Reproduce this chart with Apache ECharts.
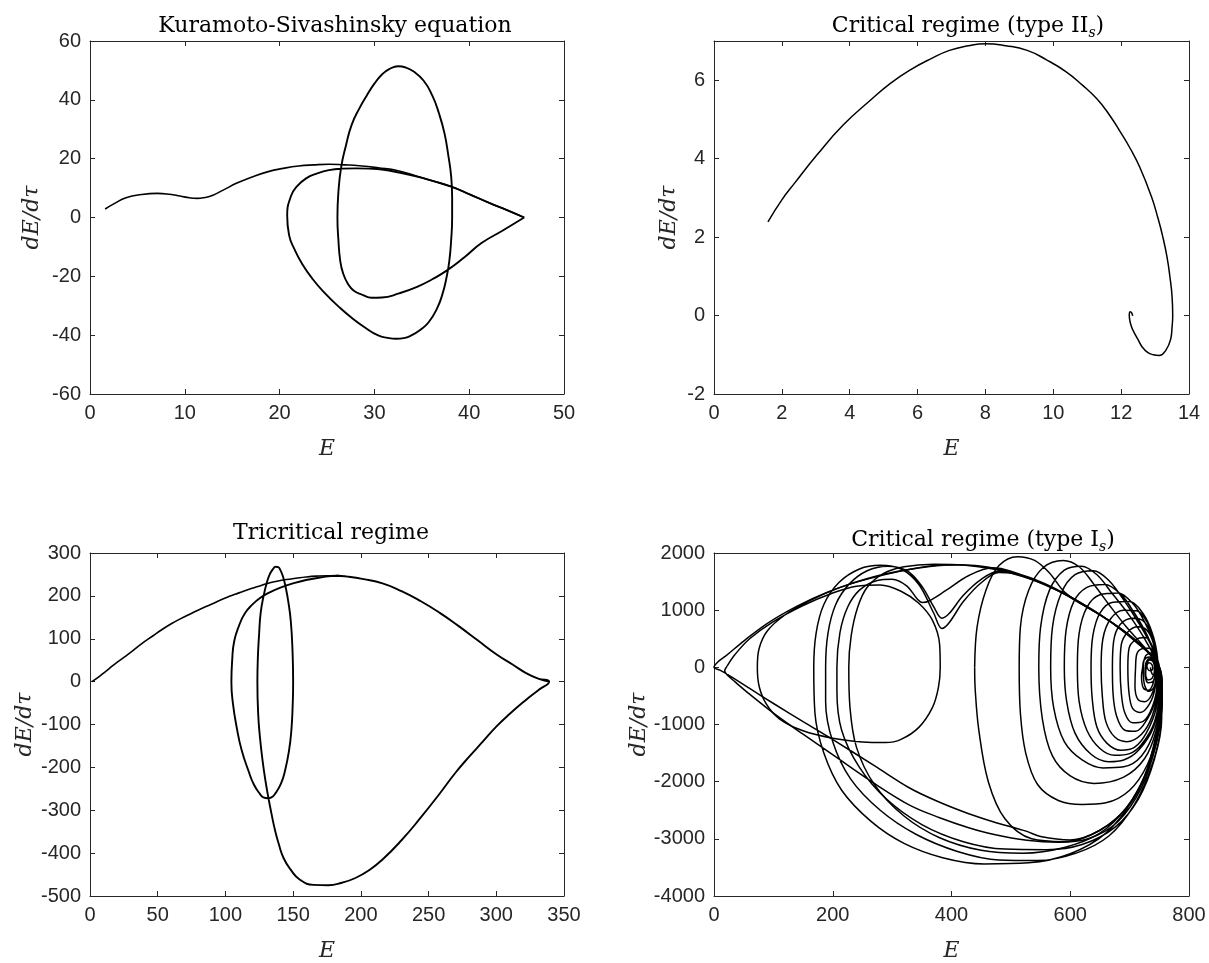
<!DOCTYPE html>
<html>
<head>
<meta charset="utf-8">
<script src="https://cdn.jsdelivr.net/npm/echarts@6/dist/echarts.min.js"></script>
<style>
  html, body { margin: 0; padding: 0; background: #ffffff; }
  #chart { width: 1209px; height: 963px; }
</style>
</head>
<body>
<div id="chart"></div>
<script>
// axis ranges: [min, max, interval]
const ksX = [0, 50, 10];
const ksY = [-60, 60, 20];
const c2X = [0, 14, 2];
const c2Y = [-2, 7, 2];
const tcX = [0, 350, 50];
const tcY = [-500, 300, 100];
const c1X = [0, 800, 200];
const c1Y = [-4000, 2000, 1000];

// Kuramoto-Sivashinsky: transient then the periodic orbit
const ksTransient = [[1.6,2.9],[2.6,4.8],[3.8,6.7],[5.4,7.8],[7.1,8.2],[8.4,7.9],[9.5,7.3],[10.5,6.7],[11.3,6.5],[12.1,6.8],[12.9,7.5],[14.1,9.4],[15.5,11.7],[17.1,13.8],[18.8,15.6],[20.4,16.7],[22.0,17.5],[23.6,17.9],[25.2,18.1],[26.8,17.9],[28.4,17.6],[30.4,16.9],[32.5,15.9],[34.5,14.0],[36.3,12.3],[38.1,10.5],[40.1,7.8],[42.1,5.0],[44.0,2.5],[45.8,0]];
const ksOrbit = [[45.8,0],[43.5,-4.5],[41.3,-8.7],[39.5,-13.5],[37.7,-17.9],[36.1,-21.0],[34.5,-23.6],[32.6,-25.8],[30.8,-27.2],[29.7,-27.3],[28.8,-26.4],[27.8,-24.8],[27.2,-22.5],[26.7,-19.0],[26.4,-14.8],[26.2,-7.5],[26.1,0.1],[26.2,8.5],[26.5,17.2],[27.0,24.5],[27.6,31.5],[28.4,37.0],[29.2,41.5],[30.0,45.5],[30.8,48.6],[31.6,50.5],[32.5,51.4],[33.3,51.0],[34.1,49.7],[35.2,46.5],[36.1,41.5],[36.8,35.5],[37.4,28.5],[37.8,21.0],[38.1,13.9],[38.2,7.0],[38.2,0.1],[38.1,-7.5],[37.9,-14.8],[37.6,-20.5],[37.2,-25.8],[36.6,-31.0],[35.7,-35.7],[34.8,-38.3],[33.9,-40.1],[33.1,-41.0],[32.3,-41.2],[31.4,-40.9],[30.4,-40.1],[29.0,-37.4],[27.6,-34.1],[26.2,-30.2],[24.8,-25.8],[23.5,-21.0],[22.4,-15.9],[21.6,-11.0],[21.0,-6.0],[20.8,0.7],[21.2,7.3],[21.8,10.5],[22.8,13.3],[23.9,14.9],[25.2,16.1],[26.6,16.6],[28.0,16.7],[29.4,16.6],[30.8,16.3],[32.6,15.3],[34.5,13.9],[36.3,12.3],[38.1,10.5],[40.1,7.8],[42.1,5.0],[44.0,2.5],[45.8,0]];

// critical regime, type II_s
const c2Path = [[1.59,2.39],[2.0,2.95],[2.37,3.37],[3.05,4.11],[3.8,4.85],[4.65,5.52],[5.2,5.92],[5.8,6.27],[6.4,6.55],[6.94,6.76],[7.5,6.88],[8.0,6.93],[8.6,6.88],[9.23,6.76],[9.8,6.52],[10.37,6.22],[10.85,5.88],[11.29,5.52],[11.65,5.12],[11.97,4.69],[12.28,4.24],[12.55,3.78],[12.89,3.04],[13.08,2.5],[13.23,2.0],[13.35,1.5],[13.44,0.97],[13.5,0.5],[13.52,0],[13.5,-0.3],[13.46,-0.6],[13.32,-0.88],[13.12,-1.02],[12.95,-1.0],[12.78,-0.94],[12.62,-0.8],[12.49,-0.6],[12.38,-0.43],[12.3,-0.27],[12.25,-0.1],[12.24,0.02],[12.27,0.1],[12.31,0.07],[12.34,-0.01]];

// tricritical regime: transient then the periodic orbit
const tcTransient = [[1.4,0],[6,10],[10,20],[14,30],[18.3,41],[24,54],[30,68],[38,88],[46.6,107],[53,121],[60,135],[67,147],[74.8,159],[82,170],[90,181],[96,190],[103,199],[110,207],[117,215],[124,222],[131,229],[138,234],[145,238],[152,241],[159.5,244],[167,246],[175,247],[182,247]];
const tcOrbit = [[182,247],[190,245],[202,239],[216,229],[230,211],[244,188],[258,161],[272,130],[286,97],[300,64],[312,40],[322,20],[331,7],[339,0],[331,-20],[321,-45],[310,-75],[300,-105],[290,-140],[280,-175],[270,-212],[258,-262],[244,-318],[230,-370],[216,-415],[206,-440],[196,-458],[186,-469],[176,-475],[165,-474],[155,-462],[148,-438],[143,-412],[139.5,-380],[136.5,-345],[134,-308],[131.8,-272],[129.5,-230],[127.5,-186],[125.5,-130],[124.2,-76],[123.6,-1],[124,60],[124.8,107],[126,160],[128.4,203],[130.5,230],[132.7,250],[135,262],[137,268],[139,267],[140.6,260],[142.5,245],[144.5,220],[146.5,185],[148.3,140],[149.5,75],[150,-1],[149.6,-60],[148.7,-113],[147,-160],[144,-208],[141,-238],[137,-260],[134,-270],[131.3,-272],[128,-270],[125.7,-263],[121,-240],[117,-208],[112,-160],[108.7,-113],[105.5,-50],[104.4,-1],[105,50],[106.4,93],[110,130],[114.3,159],[120,180],[125.6,195],[132,207],[139.7,218],[150,229],[159.5,237],[170,243],[182,247],[190,245],[202,239],[216,229],[230,211],[244,188],[258,161],[272,130],[286,97],[300,64],[312,40],[322,20],[331,7],[339,0]];

// critical regime, type I_s: big excursions to the left
const c1Outer = [[748,0],[752,-500],[744,-1200],[725,-1900],[695,-2450],[650,-2850],[600,-3020],[550,-2960],[527,-2870],[470,-2700],[429,-2560],[380,-2360],[331,-2120],[270,-1720],[201,-1270],[150,-950],[103,-650],[60,-370],[30,-170],[10,-50],[0,0],
  [6,90],[20,200],[50,460],[90,770],[140,1070],[190,1310],[240,1490],[290,1630],[340,1735],[390,1795],[440,1780],[490,1690],[540,1530],[590,1290],[640,990],[690,630],[725,330],[745,80],
  [752,-300],[750,-900],[736,-1600],[706,-2300],[660,-2900],[600,-3260],[530,-3420],[455,-3440],[385,-3330],[320,-3080],[265,-2700],[215,-2150],[185,-1500],[170,-800],[168,0],[172,600],[185,1100],[210,1480],[245,1720],[280,1785],[315,1720],[345,1450],[370,950],[384,680],[396,780],[420,1150],[450,1480],[480,1660],[500,1650],[540,1520],[590,1290],[640,990],[690,630],[725,330],[748,60],
  [755,-300],[753,-1000],[738,-1700],[708,-2400],[665,-2950],[610,-3250],[545,-3380],[480,-3370],[410,-3220],[340,-2920],[280,-2500],[230,-1950],[200,-1300],[188,-600],[188,0],[192,600],[205,1100],[228,1460],[258,1690],[292,1770],[325,1690],[350,1420],[370,1060],[384,860],[396,940],[420,1260],[450,1540],[480,1680],[520,1610],[570,1400],[620,1110],[670,780],[712,440],[740,150],
  [754,-250],[754,-900],[742,-1600],[715,-2300],[675,-2800],[620,-3100],[560,-3190],[490,-3180],[420,-3050],[350,-2750],[290,-2300],[245,-1750],[215,-1100],[207,-400],[207,0],[212,600],[225,1050],[245,1350],[275,1520],[300,1540],[325,1420],[342,1200],[351,1135],[362,1160],[390,1340],[430,1610],[470,1740],[500,1680],[550,1480],[600,1230],[650,920],[700,560],[735,230],[750,0],
  [753,-500],[745,-1300],[720,-2100],[680,-2700],[630,-3000],[580,-3060],[527,-3025],[470,-2920],[429,-2805],[380,-2630],[331,-2419],[270,-2030],[201,-1537],[150,-1170],[103,-823],[60,-470],[35,-250],[22,-130],[18,-60],[22,20]];

const c1Middle = [[22,20],[35,220],[60,500],[100,800],[150,1080],[200,1300],[240,1420],[280,1440],[315,1330],[345,1120],[368,820],[380,400],[381,0],[378,-350],[368,-700],[345,-1050],[315,-1260],[289,-1317],[250,-1305],[200,-1240],[150,-1110],[110,-900],[88,-640],[76,-330],[73,0],[76,330],[90,640],[120,920],[160,1160],[210,1390],[260,1560],[310,1680],[360,1760],[410,1795],[460,1740],[500,1650],[550,1480],[600,1230],[650,920],[700,560],[735,230],[752,-50],
  [755,-400],[750,-1100],[730,-1800],[695,-2450],[650,-2900],[590,-3150],[520,-3250],[450,-3200],[380,-2980],[320,-2600],[270,-2050],[240,-1400],[229,-700],[227,0],[231,550],[242,1050],[258,1400],[285,1640],[320,1760],[370,1805],[420,1790],[470,1720],[520,1590],[570,1390],[620,1100],[670,780],[712,430],[742,120],
  [754,-400],[748,-1100],[730,-1800],[700,-2400],[650,-2850],[590,-3050],[535,-3000],[490,-2650],[462,-2000],[446,-1100],[440,-400],[439,0]];

// nested loops shrinking onto the spiral near E = 740
const c1Inner = [[439,0],[443,700],[458,1350],[480,1780],[511,1935],[540,1870],[565,1650],[590,1320],[620,1100],[650,920],[690,630],[725,330],[750,0],[755,-500],[748,-1100],[730,-1700],[700,-2150],[660,-2370],[620,-2400],[580,-2330],[545,-2050],[525,-1500],[516,-800],[514,0],
  [516,700],[530,1350],[555,1750],[588,1870],[615,1760],[640,1450],[665,1100],[695,700],[725,350],[748,0],[754,-500],[745,-1100],[725,-1600],[690,-1920],[640,-2030],[600,-1900],[570,-1550],[553,-900],[547,0],
  [550,700],[565,1350],[590,1700],[619,1770],[645,1620],[670,1300],[700,900],[728,450],[748,0],[752,-500],[742,-1100],[720,-1550],[690,-1740],[655,-1760],[620,-1620],[590,-1300],[572,-700],[567,0],
  [570,700],[585,1300],[608,1620],[639,1690],[665,1520],[690,1180],[715,780],[738,350],[750,0],[751,-500],[740,-1050],[715,-1450],[690,-1620],[665,-1650],[635,-1520],[608,-1150],[594,-600],[590,0],
  [593,650],[606,1150],[628,1400],[658,1450],[685,1280],[708,950],[730,550],[746,100],[750,-400],[742,-950],[720,-1350],[700,-1510],[675,-1540],[650,-1420],[628,-1100],[615,-600],[612,0],
  [615,600],[628,1050],[650,1270],[680,1300],[705,1120],[725,800],[742,380],[749,-100],[745,-700],[728,-1150],[708,-1400],[685,-1450],[662,-1330],[645,-1050],[637,-550],[635,0],
  [638,550],[650,950],[672,1140],[700,1150],[722,950],[738,600],[747,150],[748,-350],[738,-850],[720,-1170],[695,-1300],[675,-1220],[660,-950],[654,-500],[652,0],
  [655,500],[668,850],[690,1000],[712,990],[730,780],[743,420],[748,-50],[744,-550],[730,-900],[710,-1120],[692,-1100],[678,-850],[672,-450],[671,0],
  [673,450],[684,750],[705,860],[722,820],[737,580],[746,200],[746,-300],[738,-700],[722,-950],[705,-970],[692,-800],[686,-450],[684,0],
  [686,400],[697,620],[714,710],[728,660],[740,420],[745,50],[743,-350],[733,-650],[718,-790],[705,-720],[699,-450],[697,0],
  [699,330],[710,480],[726,520],[736,420],[744,150],[744,-200],[737,-480],[726,-600],[714,-560],[709,-330],[710,0],
  [712,230],[722,330],[734,340],[741,200],[743,-50],[739,-300],[731,-400],[723,-360],[720,-150],[722,0],
  [724,120],[733,180],[740,120],[742,-40],[738,-190],[731,-220],[727,-120],[728,0],[733,80],[738,40],[739,-30],[735,-60],
  [730,-20],[729,60],[734,130],[740,90],[743,-80],[739,-250],[731,-270],[726,-100],[727,60],[733,150],[741,110],[745,-60],[741,-350],[732,-420],[724,-250],[723,0],[727,200],[736,250],[743,100],[744,-150],[738,-120],[735,0]];

const axisColor = '#262626';
const serif = "'DejaVu Serif', serif";
const sans = "'Liberation Sans', Arial, sans-serif";

const grids = [
  { left: 90, top: 41, width: 474, height: 353 },
  { left: 714, top: 41, width: 475, height: 353 },
  { left: 90, top: 553, width: 474, height: 353 },
  { left: 714, top: 553, width: 475, height: 353 }
];
// distance of the y label from each panel's axis
const yNameGaps = [47, 34, 54, 59];

function makeAxes(gi, range, isX) {
  const base = {
    type: 'value',
    gridIndex: gi,
    min: range[0],
    max: range[1],
    interval: range[2],
    axisLine: { show: true, onZero: false, lineStyle: { color: axisColor, width: 1 } },
    axisTick: { show: true, inside: true, length: 5, lineStyle: { color: axisColor, width: 1 } },
    splitLine: { show: false }
  };
  const main = Object.assign({}, base, {
    position: isX ? 'bottom' : 'left',
    axisLabel: {
      color: axisColor, fontSize: 20, fontFamily: sans, margin: 9,
      showMaxLabel: !(range[1] % range[2]),
      formatter: v => String(v)
    },
    name: isX ? 'E' : 'dE/dτ',
    nameLocation: 'middle',
    nameGap: isX ? 44 : yNameGaps[gi],
    nameTextStyle: { fontFamily: serif, fontStyle: 'italic', fontSize: 22, color: axisColor }
  });
  const mirror = Object.assign({}, base, {
    position: isX ? 'top' : 'right',
    axisLabel: { show: false }
  });
  return [main, mirror];
}

const xRanges = [ksX, c2X, tcX, c1X];
const yRanges = [ksY, c2Y, tcY, c1Y];
const xAxes = [];
const yAxes = [];
for (let i = 0; i < 4; i++) {
  xAxes.push(...makeAxes(i, xRanges[i], true));
  yAxes.push(...makeAxes(i, yRanges[i], false));
}

function curve(gi, data, width, smooth) {
  return {
    type: 'line',
    xAxisIndex: gi * 2,
    yAxisIndex: gi * 2,
    data: data,
    showSymbol: false,
    smooth: smooth,
    silent: true,
    lineStyle: { color: '#000000', width: width }
  };
}

const titleStyle = {
  fontFamily: serif, fontWeight: 'normal', fontSize: 22, color: '#000000', lineHeight: 28,
  rich: { s: { fontFamily: serif, fontStyle: 'italic', fontSize: 14, lineHeight: 15, verticalAlign: 'bottom' } }
};

const chart = echarts.init(document.getElementById('chart'), null, { renderer: 'canvas' });
chart.setOption({
  animation: false,
  backgroundColor: '#ffffff',
  title: [
    { text: 'Kuramoto-Sivashinsky equation', left: 330, top: 7, textAlign: 'center', textStyle: titleStyle },
    { text: 'Critical regime (type II{s|s})', left: 963, top: 7, textAlign: 'center', textStyle: titleStyle },
    { text: 'Tricritical regime', left: 326, top: 514, textAlign: 'center', textStyle: titleStyle },
    { text: 'Critical regime (type I{s|s})', left: 978, top: 521, textAlign: 'center', textStyle: titleStyle }
  ],
  grid: grids,
  xAxis: xAxes,
  yAxis: yAxes,
  series: [
    curve(0, ksTransient, 1.6, 0.5),
    curve(0, ksOrbit, 1.9, 0.5),
    curve(1, c2Path, 1.5, 0.5),
    curve(2, tcTransient, 1.6, 0.5),
    curve(2, tcOrbit, 1.9, 0.5),
    curve(3, c1Outer, 1.5, 0.35),
    curve(3, c1Middle, 1.5, 0.35),
    curve(3, c1Inner, 1.5, 0.35)
  ]
});
</script>
</body>
</html>
